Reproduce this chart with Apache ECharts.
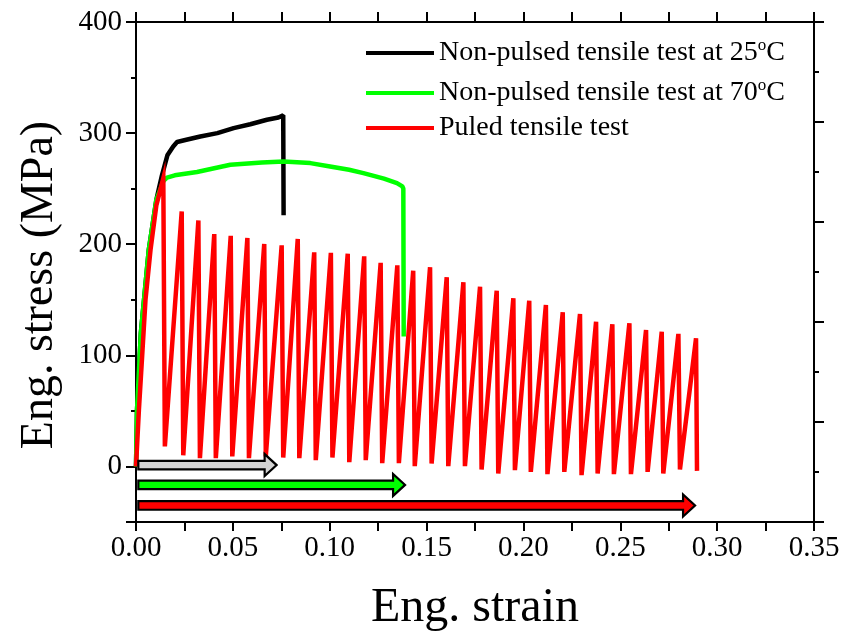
<!DOCTYPE html>
<html>
<head>
<meta charset="utf-8">
<script src="https://cdn.jsdelivr.net/npm/echarts@6/dist/echarts.min.js"></script>
<style>
html,body{margin:0;padding:0;background:#fff;}
#chart{width:848px;height:638px;}
</style>
</head>
<body>
<div id="chart"></div>
<script>
// ---- data ----
const seriesNames = ['Non-pulsed tensile test at 25°C', 'Non-pulsed tensile test at 70°C', 'Puled tensile test'];

const blackStrain = [0, 0.0005, 0.0025, 0.0066, 0.0105, 0.0134, 0.0162, 0.0192, 0.0212, 0.0260, 0.0332, 0.0420, 0.0504, 0.0590, 0.0676, 0.0735, 0.0760, 0.0762];
const blackStress = [0, 50, 120, 195, 240, 262, 280, 288, 292, 294, 297, 300, 304.5, 308, 312, 314, 316, 226];

const greenStrain = [0, 0.0005, 0.0025, 0.0066, 0.0105, 0.0142, 0.0160, 0.0200, 0.0315, 0.0487, 0.0650, 0.0762, 0.0900, 0.1002, 0.1100, 0.1174, 0.1280, 0.1347, 0.1375, 0.1380, 0.1382];
const greenStress = [0, 50, 120, 195, 240, 257, 260, 262, 265, 271.5, 273.5, 274.5, 273, 270, 267, 264, 259, 255, 252, 250, 117];

const redLoadStrain = [0, 0.0015, 0.0032, 0.0049, 0.0075, 0.0105];
const redLoadStress = [0, 51, 100, 150, 195, 235];

const peakStrain = [0.0141, 0.0236, 0.0322, 0.0404, 0.0489, 0.0575, 0.0662, 0.0752, 0.0835, 0.0920, 0.1006, 0.1093, 0.1178, 0.1263, 0.1349, 0.1431, 0.1518, 0.1604, 0.1690, 0.1776, 0.1862, 0.1948, 0.2030, 0.2116, 0.2203, 0.2292, 0.2375, 0.2459, 0.2547, 0.2633, 0.2714, 0.2800, 0.2891];
const peakStress = [259.5, 229.5, 221.4, 209.1, 207.6, 205.6, 200.2, 199, 204.7, 192.7, 192.2, 191.5, 189.1, 183.2, 181, 176.2, 179.3, 170.3, 165.8, 161.8, 158.2, 151.4, 149.2, 145.3, 138.7, 137.2, 130.3, 128, 128.9, 122.8, 121.3, 119.3, 115.4];
const troughStrain = [0.0149, 0.0244, 0.0330, 0.0412, 0.0497, 0.0583, 0.0670, 0.0760, 0.0843, 0.0928, 0.1014, 0.1101, 0.1186, 0.1271, 0.1357, 0.1439, 0.1526, 0.1612, 0.1698, 0.1784, 0.1870, 0.1956, 0.2038, 0.2124, 0.2211, 0.2300, 0.2383, 0.2467, 0.2555, 0.2641, 0.2722, 0.2808, 0.2896];
const troughStress = [18, 10, 7.5, 7.5, 9, 7.5, 9, 8, 7.5, 5.7, 8, 3.9, 5.7, 3, 3, 0.3, 2.7, 0.3, 0.3, -2.7, -6.3, -3.3, -4.9, -6.9, -4.9, -7.8, -6.3, -6.9, -6.9, -4.9, -6.3, -2.7, -4];

const arrowStart = [0.0012, 0.0012, 0.0012];
const arrowEnd = [0.0726, 0.1389, 0.2886];
const arrowLevel = [1.2, -16.6, -35.1];

const xTicks = [0, 0.35, 0.05];
const yTicks = [-50, 400, 50];

// ---- build series data ----
function pairs(xs, ys) { return xs.map((x, i) => [x, ys[i]]); }
const blackData = pairs(blackStrain, blackStress);
const greenData = pairs(greenStrain, greenStress);
const redData = pairs(redLoadStrain, redLoadStress);
peakStrain.forEach((x, i) => {
  redData.push([x, peakStress[i]]);
  redData.push([troughStrain[i], troughStress[i]]);
});
const arrowData = arrowStart.map((s, i) => [s, arrowEnd[i], arrowLevel[i], i]);
const arrowFills = ['#d3d3d3', '#00ff00', '#ff0000'];

const FONT = '"Liberation Serif", "Times New Roman", serif';
const chart = echarts.init(document.getElementById('chart'), null, {renderer: 'canvas'});

function legendFor(idx, top) {
  return {
    data: [seriesNames[idx]],
    left: 361, top: top,
    orient: 'vertical',
    icon: 'rect', itemWidth: 68, itemHeight: 4,
    selectedMode: false,
    formatter: function (name) {
      const k = name.indexOf('°');
      if (k < 0) return '{t|' + name + '}';
      return '{t|' + name.slice(0, k) + '}{s|o}{t|' + name.slice(k + 1) + '}';
    },
    textStyle: {
      fontFamily: FONT, color: '#000',
      rich: {
        t: {fontFamily: FONT, fontSize: 28, lineHeight: 32, color: '#000'},
        s: {fontFamily: FONT, fontSize: 17, lineHeight: 14, verticalAlign: 'top', color: '#000'}
      }
    }
  };
}

const axisLineStyle = {color: '#000', width: 2};

const option = {
  animation: false,
  backgroundColor: '#fff',
  grid: {left: 136, right: 34, top: 22, bottom: 116, containLabel: false},
  legend: [legendFor(0, 32), legendFor(1, 72), legendFor(2, 109)],
  xAxis: [
    {
      type: 'value', position: 'bottom', min: xTicks[0], max: xTicks[1], interval: xTicks[2],
      axisLine: {show: true, onZero: false, lineStyle: axisLineStyle},
      axisTick: {show: true, inside: false, length: 9, lineStyle: {color: '#000', width: 2}},
      minorTick: {show: true, splitNumber: 2, length: 9, lineStyle: {color: '#000', width: 2}},
      splitLine: {show: false},
      axisLabel: {show: true, margin: 12, fontFamily: FONT, fontSize: 29, color: '#000',
        formatter: v => v.toFixed(2)}
    },
    {
      type: 'value', position: 'top', min: xTicks[0], max: xTicks[1], interval: 0.025,
      axisLine: {show: true, onZero: false, lineStyle: axisLineStyle},
      axisTick: {show: true, inside: false, length: 10, lineStyle: {color: '#000', width: 2}},
      splitLine: {show: false},
      axisLabel: {show: false}
    }
  ],
  yAxis: [
    {
      type: 'value', position: 'left', min: yTicks[0], max: yTicks[1], interval: yTicks[2],
      axisLine: {show: true, onZero: false, lineStyle: axisLineStyle},
      axisTick: {show: true, inside: false, length: 5, lineStyle: {color: '#000', width: 2}},
      splitLine: {show: false},
      axisLabel: {show: true, margin: 14, fontFamily: FONT, fontSize: 29, color: '#000',
        formatter: v => (Math.round(v) % 100 === 0 ? String(Math.round(v)) : '')}
    },
    {
      type: 'value', position: 'right', min: 0, max: 10, interval: 2,
      axisLine: {show: true, onZero: false, lineStyle: axisLineStyle},
      axisTick: {show: true, inside: false, length: 10, lineStyle: {color: '#000', width: 2}},
      minorTick: {show: true, splitNumber: 2, length: 5, lineStyle: {color: '#000', width: 2}},
      splitLine: {show: false},
      axisLabel: {show: false}
    },
    {
      // major ticks of the left axis (every 100 MPa)
      type: 'value', position: 'left', inverse: true, min: -yTicks[1], max: -yTicks[0], interval: 100,
      axisLine: {show: false, onZero: false},
      axisTick: {show: true, inside: false, length: 10, lineStyle: {color: '#000', width: 2}},
      splitLine: {show: false},
      axisLabel: {show: false}
    }
  ],
  graphic: [
    {type: 'text', x: 475, y: 608, silent: true,
      style: {text: 'Eng. strain', font: '48px ' + FONT, fill: '#000', textAlign: 'center', textVerticalAlign: 'middle'}},
    {type: 'text', x: 40, y: 285, rotation: Math.PI / 2, silent: true,
      style: {text: 'Eng. stress (MPa)', font: '46px ' + FONT, fill: '#000', textAlign: 'center', textVerticalAlign: 'middle'}}
  ],
  series: [
    {
      name: seriesNames[2], type: 'line', data: redData, xAxisIndex: 0, yAxisIndex: 0,
      symbol: 'none', showSymbol: false, z: 3,
      lineStyle: {color: '#ff0000', width: 4.5, join: 'miter'}, itemStyle: {color: '#ff0000'}
    },
    {
      name: seriesNames[1], type: 'line', data: greenData, xAxisIndex: 0, yAxisIndex: 0,
      symbol: 'none', showSymbol: false, z: 2,
      lineStyle: {color: '#00ff00', width: 4.5}, itemStyle: {color: '#00ff00'}
    },
    {
      name: seriesNames[0], type: 'line', data: blackData, xAxisIndex: 0, yAxisIndex: 0,
      symbol: 'none', showSymbol: false, z: 1,
      lineStyle: {color: '#000000', width: 4.5}, itemStyle: {color: '#000000'}
    },
    {
      type: 'custom', xAxisIndex: 0, yAxisIndex: 0, z: 5, silent: true,
      data: arrowData,
      renderItem: function (params, api) {
        const p0 = api.coord([api.value(0), api.value(2)]);
        const p1 = api.coord([api.value(1), api.value(2)]);
        const y = p0[1], x0 = p0[0], x1 = p1[0];
        const bh = 4.3, hh = 11, hl = 12;
        return {
          type: 'polygon',
          shape: {points: [[x0, y - bh], [x1 - hl, y - bh], [x1 - hl, y - hh], [x1, y], [x1 - hl, y + hh], [x1 - hl, y + bh], [x0, y + bh]]},
          style: {fill: arrowFills[api.value(3)], stroke: '#000', lineWidth: 2.2, lineJoin: 'miter'}
        };
      }
    }
  ]
};
chart.setOption(option);
</script>
</body>
</html>
